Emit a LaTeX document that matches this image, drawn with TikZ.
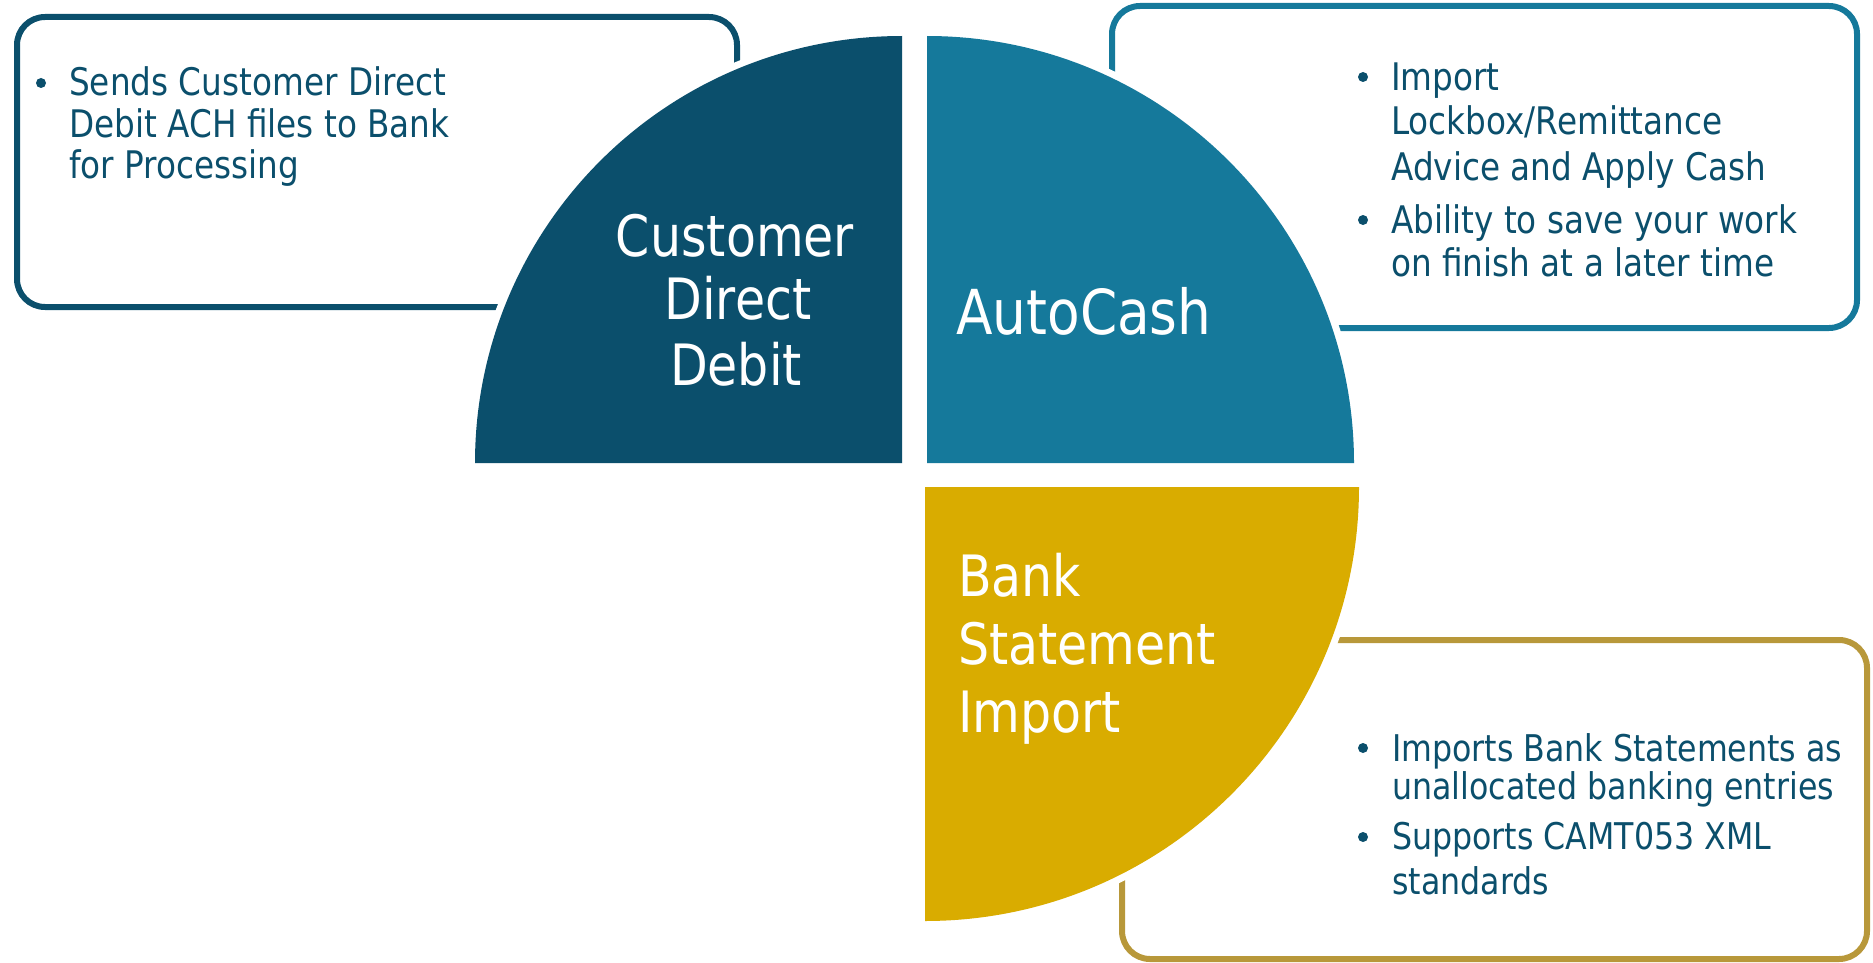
\documentclass[tikz,border=0pt]{standalone}
\usepackage{fontspec}
\setmainfont{DejaVu Sans}[FakeStretch=0.86]
\definecolor{dteal}{HTML}{0B4F6C}
\definecolor{mteal}{HTML}{15799B}
\definecolor{gold}{HTML}{D9AC00}
\definecolor{goldline}{HTML}{B8983A}
\begin{document}
\begin{tikzpicture}[x=1pt,y=-1pt,
  frame/.style={line width=6pt, rounded corners=28pt},
  halo/.style={fill=white, draw=white, line width=14pt},
  boxtext/.style={font=\fontsize{38}{44}\selectfont, text=dteal, inner sep=0pt, anchor=base west},
  boxtextsm/.style={boxtext, font=\fontsize{36.8}{44}\selectfont},
  qlabel/.style={text=white, inner sep=0pt},
  dot/.style={circle, fill=dteal, minimum size=10pt, inner sep=0pt}]
\useasboundingbox (0,0) rectangle (1873,963);

% outline boxes
\draw[frame, draw=dteal] (17,17) rectangle (737,307);
\draw[frame, draw=mteal] (1112,6) rectangle (1857,328);
\draw[frame, draw=goldline] (1122,640) rectangle (1867,959);

% white halos
\path[halo] (902,463) -- (475,463) arc[start angle=180, end angle=270, radius=427] -- cycle;
\path[halo] (927,463) -- (927,36) arc[start angle=270, end angle=360, radius=427] -- cycle;
\path[halo] (925,487) -- (1359,487) arc[start angle=0, end angle=90, radius=434] -- cycle;

% quadrants
\fill[dteal] (902,463) -- (475,463) arc[start angle=180, end angle=270, radius=427] -- cycle;
\fill[mteal] (927,463) -- (927,36) arc[start angle=270, end angle=360, radius=427] -- cycle;
\fill[gold] (925,487) -- (1359,487) arc[start angle=0, end angle=90, radius=434] -- cycle;

% quadrant labels
\node[qlabel, anchor=base, font=\fontsize{57}{64}\selectfont] (cdd1) at (735,256) {Customer};
\node[qlabel, anchor=base, font=\fontsize{57}{64}\selectfont] (cdd2) at (738,319) {Direct};
\node[qlabel, anchor=base, font=\fontsize{57}{64}\selectfont] (cdd3) at (736,385) {Debit};
\node[qlabel, anchor=base west, font=\fontsize{62}{70}\selectfont] (ac) at (956,334) {AutoCash};
\node[qlabel, anchor=base west, font=\fontsize{57}{68}\selectfont] (bsi1) at (958,596) {Bank};
\node[qlabel, anchor=base west, font=\fontsize{57}{68}\selectfont] (bsi2) at (958,664) {Statement};
\node[qlabel, anchor=base west, font=\fontsize{57}{68}\selectfont] (bsi3) at (958,732) {Import};

% left box text
\node[dot] (d1) at (41,83) {};
\node[boxtext] (t11) at (69,96) {Sends Customer Direct};
\node[boxtext] (t12) at (69,138) {Debit ACH files to Bank};
\node[boxtext] (t13) at (69,178) {for Processing};

% top right box text
\node[dot] (d2) at (1363,77) {};
\node[boxtext] (t21) at (1391,91) {Import};
\node[boxtext] (t22) at (1391,135) {Lockbox/Remittance};
\node[boxtext] (t23) at (1391,180) {Advice and Apply Cash};
\node[dot] (d3) at (1363,220) {};
\node[boxtext] (t24) at (1391,233) {Ability to save your work};
\node[boxtext] (t25) at (1391,276) {on finish at a later time};

% bottom right box text
\node[dot] (d4) at (1363,748) {};
\node[boxtextsm] (t31) at (1392,761) {Imports Bank Statements as};
\node[boxtextsm] (t32) at (1392,799) {unallocated banking entries};
\node[dot] (d5) at (1363,837) {};
\node[boxtextsm] (t33) at (1392,849) {Supports CAMT053 XML};
\node[boxtextsm] (t34) at (1392,894) {standards};
\end{tikzpicture}
\end{document}
